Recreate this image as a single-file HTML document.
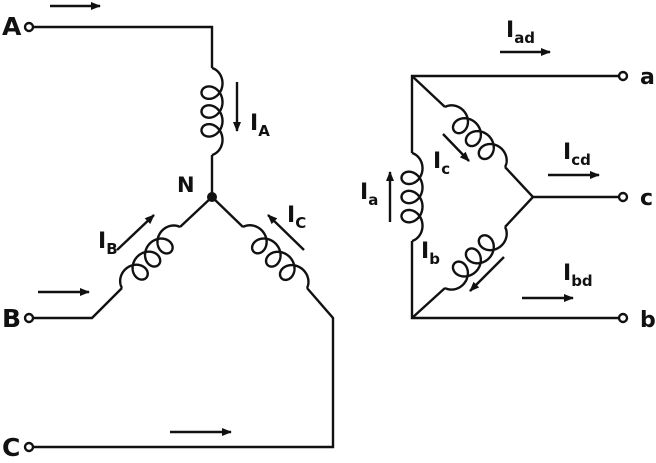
<!DOCTYPE html>
<html><head><meta charset="utf-8"><style>
html,body{margin:0;padding:0;background:#fff;}
svg{display:block;}
text{font-family:"DejaVu Sans","Liberation Sans",sans-serif;font-weight:bold;fill:#111;}
</style></head><body>
<svg id="s" width="656" height="463" viewBox="0 0 656 463" xmlns="http://www.w3.org/2000/svg">
<defs><marker id="ar" markerWidth="10" markerHeight="8" refX="9" refY="4" orient="auto" markerUnits="userSpaceOnUse"><path d="M0,0 L10,4 L0,8 z" fill="#111"/></marker></defs>
<g stroke="#111" stroke-width="2.4" fill="none">
<polyline points="33,27 212,27 212,68"/>
<line x1="212" y1="155" x2="212" y2="197"/>
<polyline points="212,197 180,227"/>
<polyline points="122,288 92,318 33,318"/>
<polyline points="212,197 243,227"/>
<polyline points="307,288 333,318 333,447 33,447"/>
<polyline points="619,76 412,76 412,153"/>
<polyline points="412,241 412,318 619,318"/>
<polyline points="412,76 445,107"/>
<polyline points="505,167 533,197 505,227"/>
<polyline points="445,288 412,318"/>
<line x1="533" y1="197" x2="619" y2="197"/>
<g id="coils"></g>
<circle cx="29" cy="27" r="4" fill="#fff"/>
<circle cx="29" cy="318" r="4" fill="#fff"/>
<circle cx="29" cy="447" r="4" fill="#fff"/>
<circle cx="623" cy="76" r="4" fill="#fff"/>
<circle cx="623" cy="197" r="4" fill="#fff"/>
<circle cx="623" cy="318" r="4" fill="#fff"/>
<g marker-end="url(#ar)">
<line x1="50" y1="6" x2="100" y2="6"/>
<line x1="38" y1="292" x2="89" y2="292"/>
<line x1="170" y1="432" x2="231" y2="432"/>
<line x1="237" y1="82" x2="237" y2="131"/>
<line x1="117" y1="250" x2="154" y2="215"/>
<line x1="304" y1="250" x2="268" y2="215"/>
<line x1="500" y1="52" x2="550" y2="52"/>
<line x1="548" y1="175" x2="599" y2="175"/>
<line x1="522" y1="298" x2="573" y2="298"/>
<line x1="390" y1="222" x2="390" y2="172"/>
<line x1="443" y1="134" x2="469" y2="161"/>
<line x1="504" y1="257" x2="470" y2="291"/>
</g>
</g>
<circle cx="212" cy="197" r="5" fill="#111"/>
<text x="2" y="35" font-size="25">A</text>
<text x="2" y="327" font-size="25">B</text>
<text x="2" y="456" font-size="25">C</text>
<text x="640" y="84" font-size="22">a</text>
<text x="640" y="205" font-size="22">c</text>
<text x="640" y="327" font-size="22">b</text>
<text x="177" y="192" font-size="21">N</text>
<text x="250" y="130" font-size="22">I<tspan font-size="15" dy="6">A</tspan></text>
<text x="98" y="248" font-size="22">I<tspan font-size="15" dy="6">B</tspan></text>
<text x="287" y="222" font-size="22">I<tspan font-size="15" dy="6">C</tspan></text>
<text x="506" y="37" font-size="22">I<tspan font-size="15" dy="6">ad</tspan></text>
<text x="563" y="159" font-size="22">I<tspan font-size="15" dy="6">cd</tspan></text>
<text x="563" y="280" font-size="22">I<tspan font-size="15" dy="6">bd</tspan></text>
<text x="360" y="199" font-size="22">I<tspan font-size="15" dy="6">a</tspan></text>
<text x="433" y="168" font-size="22">I<tspan font-size="15" dy="6">c</tspan></text>
<text x="421" y="258" font-size="22">I<tspan font-size="15" dy="6">b</tspan></text>
</svg>
<script>
function coil(x0,y0,x1,y1,side){
 var n=3.5,R=10.5,r=10.5;
 var dx=x1-x0,dy=y1-y0,L=Math.hypot(dx,dy),ux=dx/L,uy=dy/L;
 var px=-uy*side,py=ux*side,Lp=L-2*r,d='';
 for(var i=0;i<=600;i++){var t=i/600,w=2*Math.PI*n*t;
  var a=Lp*t+r*(1-Math.cos(w)),p=R*Math.sin(w);
  var x=x0+ux*a+px*p,y=y0+uy*a+py*p;d+=(i?'L':'M')+x.toFixed(2)+','+y.toFixed(2);}
 var e=document.createElementNS('http://www.w3.org/2000/svg','path');e.setAttribute('d',d);
 document.getElementById('coils').appendChild(e);}
coil(212,68,212,155,-1);
coil(180,227,122,288,1);
coil(243,227,307,288,-1);
coil(412,153,412,241,-1);
coil(445,107,505,167,-1);
coil(505,227,445,288,-1);
</script>
</body></html>
